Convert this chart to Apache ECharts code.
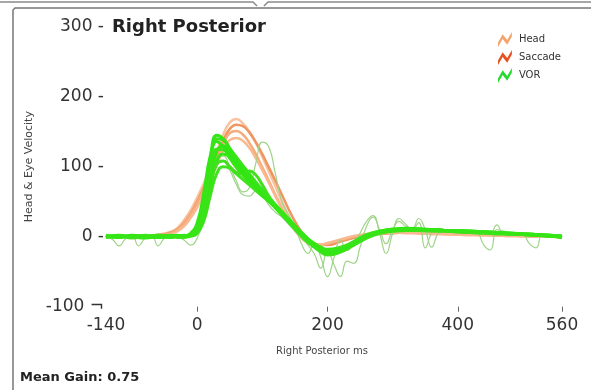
<!DOCTYPE html>
<html>
<head>
<meta charset="utf-8">
<script src="https://cdn.jsdelivr.net/npm/echarts@6/dist/echarts.min.js"></script>
<style>
  html, body { margin: 0; padding: 0; background: #fff; }
  #main { width: 591px; height: 390px; }
</style>
</head>
<body>
<div id="main"></div>
<script>
// time base (ms) for the head / main eye traces
const t = [-140, -120, -100, -80, -60, -40,
  -30, -20, -10, 0, 10, 20, 30, 40, 50, 60, 70, 80, 90, 100, 110, 120, 130, 140, 150, 160, 170, 180, 190, 200,
  220, 240, 260, 280, 300, 320, 340, 360, 380, 400, 420, 440, 460, 480, 500, 520, 540, 560];

// head velocity traces (deg/s)
const headA = [0, 1, 0, 1, 3, 7, 13, 24, 38, 56, 76, 98, 122, 146, 163, 168, 162, 150, 134, 114, 93, 72, 50, 30, 13, 1, -7, -11, -12, -11, -6, -1, 3, 5, 6, 6, 5, 5, 4, 4, 3, 3, 2, 2, 1, 1, 0, 0];
const headB = [1, 0, 1, 2, 2, 5, 10, 19, 32, 48, 67, 88, 110, 132, 148, 151, 146, 134, 118, 99, 80, 60, 41, 24, 9, -2, -9, -12, -12, -10, -5, 0, 3, 5, 5, 6, 5, 4, 4, 3, 3, 2, 2, 1, 1, 0, 0, -1];
const headC = [-1, 0, 1, 0, 2, 4, 8, 15, 27, 42, 60, 80, 102, 124, 138, 141, 137, 127, 112, 95, 77, 58, 40, 24, 10, -1, -8, -11, -11, -9, -4, 1, 4, 5, 6, 5, 5, 4, 4, 3, 2, 2, 2, 1, 1, 0, 0, 0];
const headD = [0, 0, 1, 1, 2, 6, 11, 20, 33, 50, 70, 92, 115, 137, 154, 160, 158, 149, 135, 118, 99, 80, 60, 40, 22, 7, -4, -10, -12, -12, -7, -2, 2, 4, 5, 6, 6, 5, 4, 4, 3, 3, 2, 2, 1, 1, 0, 0];

// eye (VOR) traces
const vor1 = [0, 2, -1, 2, 0, 1, 0, 1, 3, 12, 45, 100, 140, 138, 126, 114, 102, 90, 78, 67, 56, 45, 34, 23, 12, 2, -7, -14, -19, -21, -17, -8, 2, 8, 10, 11, 10, 10, 9, 8, 7, 6, 5, 5, 4, 3, 2, 0];
const vor2 = [1, -1, 2, 0, 2, -1, 1, 0, 2, 9, 35, 82, 122, 130, 120, 108, 97, 86, 76, 66, 56, 46, 36, 26, 16, 6, -3, -10, -16, -19, -18, -11, -1, 6, 9, 10, 11, 9, 9, 7, 7, 6, 4, 4, 3, 2, 1, -1];
const vor3 = [-1, 1, 0, -2, 1, 2, 0, -1, 1, 6, 28, 70, 108, 118, 114, 104, 94, 84, 74, 64, 54, 44, 34, 24, 14, 5, -4, -12, -18, -22, -20, -12, -2, 5, 8, 9, 9, 8, 8, 7, 6, 5, 5, 4, 3, 2, 1, 0];
const vor4 = [2, 0, 1, 1, -1, 0, 2, 1, 5, 20, 62, 115, 136, 128, 116, 104, 92, 81, 71, 61, 51, 41, 31, 21, 11, 1, -8, -15, -20, -23, -19, -9, 1, 7, 11, 12, 11, 10, 9, 9, 8, 7, 6, 5, 4, 3, 2, 1];
const vor5 = [0, 1, -2, 1, 1, -1, 1, 0, 2, 8, 30, 72, 104, 108, 100, 92, 90, 94, 88, 74, 58, 44, 32, 22, 12, 3, -5, -12, -17, -20, -16, -7, 3, 8, 10, 10, 10, 9, 8, 8, 7, 6, 5, 4, 4, 3, 1, 0];
const vor6 = [1, -1, 1, 0, 2, 0, -1, 1, 2, 10, 40, 92, 125, 124, 112, 99, 88, 78, 69, 60, 51, 42, 33, 24, 14, 4, -6, -15, -22, -26, -22, -12, -1, 6, 9, 10, 10, 10, 9, 8, 7, 7, 6, 5, 4, 3, 2, 0];
const vor7 = [0, 0, 1, -1, 0, 1, 0, 2, 1, 5, 22, 58, 90, 100, 98, 90, 82, 74, 66, 58, 50, 42, 33, 24, 15, 6, -3, -10, -15, -18, -15, -8, 1, 6, 8, 9, 9, 9, 8, 7, 6, 6, 5, 4, 3, 2, 1, -1];
const vor8 = [-1, 1, 1, 0, -1, 1, 1, 1, 4, 16, 55, 112, 145, 140, 126, 112, 99, 87, 75, 64, 54, 44, 34, 24, 14, 4, -5, -13, -19, -22, -18, -9, 1, 7, 10, 11, 11, 10, 9, 8, 8, 7, 6, 5, 4, 3, 2, 1];

// finer time base for the two noisy single traces
const tFine = [-140, -130, -120, -110, -100, -90, -80, -70, -60, -50, -40, -30, -20, -10, 0, 10, 20, 30, 40, 50,
  60, 70, 80, 90, 100, 110, 120, 130, 140, 150, 160, 170, 180, 190, 200, 210, 220, 230, 240, 250,
  260, 270, 280, 290, 300, 310, 320, 330, 340, 350, 360, 370, 380, 390, 400, 410, 420, 430, 440, 450,
  460, 470, 480, 490, 500, 510, 520, 530, 540, 550, 560];
const noisy1 = [0, -4, -13, -3, 2, -13, -2, 2, -13, -2, 1, 0, 1, 3, 10, 38, 85, 112, 115, 100,
  80, 64, 70, 105, 135, 128, 90, 50, 32, 15, -10, -24, -8, -30, -57, -30, -5, -20, -10, 5,
  22, 30, 5, -24, 5, 26, 18, 10, 20, -16, 5, 12, 10, 9, 8, 9, 8, 6, -12, -19,
  10, 8, 6, 6, 4, -10, -16, 3, 3, 2, 0];
const noisy2 = [1, 0, -2, 1, 0, -1, 1, 0, -1, 1, 0, -1, -5, -12, -2, 25, 70, 100, 108, 95,
  75, 60, 58, 65, 60, 45, 35, 28, 18, 8, -2, -12, -25, -45, -20, -40, -57, -35, -38, -15,
  15, 28, 10, -10, 10, 22, 15, 12, 26, 10, -15, 5, 10, 9, 8, 7, 7, 6, 6, 5,
  17, 5, 5, 4, 4, 3, 3, 2, 2, 1, 0];

const xLabels = [-140, 0, 200, 400, 560];
const xTicks = [0, 200, 400, 560];

const headTraces = [headA, headD, headB, headC];
const headColors = ['#f9c3a0', '#ef9660', '#f5ab7a', '#f8b991'];
const vorTraces = [vor7, vor3, vor5, vor2, vor6, vor4, vor1, vor8];
const vorColors = ['#3fe21c', '#36e514', '#45df22', '#30e80f', '#3ce318', '#2fe612', '#40e11d', '#35e616'];

const font = 'DejaVu Sans';
const wave = 'path://M0,9 L4,2 L8,7 L12,0 L12,4 L8,11 L4,6 L0,13 Z';
const pairs = (xs, ys) => xs.map((x, i) => [x, ys[i]]);

const series = [];
headTraces.forEach((d, i) => series.push({
  name: 'Head', type: 'line', data: pairs(t, d), smooth: true, showSymbol: false,
  color: headColors[i], lineStyle: { width: 2.5, color: headColors[i] }, z: 2
}));
series.push({ name: 'Saccade', type: 'line', data: [], color: '#e8501f', showSymbol: false });
[noisy1, noisy2].forEach(d => series.push({
  name: 'VOR', type: 'line', data: pairs(tFine, d), smooth: true, showSymbol: false,
  lineStyle: { width: 1.2, color: '#9fd488' }, z: 3
}));
vorTraces.forEach((d, i) => series.push({
  name: 'VOR', type: 'line', data: pairs(t, d), smooth: true, showSymbol: false,
  color: vorColors[i], lineStyle: { width: 3, color: vorColors[i] }, z: 4
}));

const chart = echarts.init(document.getElementById('main'));
chart.setOption({
  animation: false,
  grid: { left: 106, right: 29, top: 26.7, bottom: 83.3 },
  legend: {
    orient: 'vertical', left: 493, top: 27, itemGap: 3,
    itemWidth: 18, itemHeight: 15,
    textStyle: { fontFamily: font, fontSize: 10, color: '#333' },
    data: [
      { name: 'Head', icon: wave, itemStyle: { color: '#f4a46e' } },
      { name: 'Saccade', icon: wave, itemStyle: { color: '#e8501f' } },
      { name: 'VOR', icon: wave, itemStyle: { color: '#28d930' } }
    ]
  },
  xAxis: {
    type: 'value', min: -140, max: 560,
    name: 'Right Posterior ms', nameLocation: 'middle', nameGap: 40,
    nameTextStyle: { fontFamily: font, fontSize: 10, color: '#444', padding: [0, 24, 0, 0] },
    axisLine: { show: false, onZero: false },
    axisTick: { show: true, customValues: xTicks, length: 5, lineStyle: { color: '#666' } },
    axisLabel: { customValues: xLabels, margin: 10, fontFamily: font, fontSize: 17, color: '#333' },
    splitLine: { show: false }
  },
  yAxis: {
    type: 'value', min: -100, max: 300, interval: 100,
    name: 'Head & Eye Velocity', nameLocation: 'middle', nameRotate: 90, nameGap: 66,
    nameTextStyle: { fontFamily: font, fontSize: 11, color: '#444' },
    axisLine: { show: false }, axisTick: { show: false },
    axisLabel: {
      margin: 2, fontFamily: font, fontSize: 17, color: '#333',
      formatter: v => (v === -100 ? '-100 \u00ac' : v + ' -')
    },
    splitLine: { show: false }
  },
  graphic: [
    { type: 'polyline', silent: true, shape: { points: [[0, 2], [253, 2], [257, 6]] }, style: { stroke: '#8a8a8a', lineWidth: 1.5 } },
    { type: 'polyline', silent: true, shape: { points: [[264, 6], [268, 2], [591, 2]] }, style: { stroke: '#8a8a8a', lineWidth: 1.5 } },
    { type: 'polyline', silent: true, shape: { points: [[13, 390], [13, 10], [15, 8], [591, 8]] }, style: { stroke: '#777', lineWidth: 1.5 } },
    { type: 'text', silent: true, style: { text: 'Right Posterior', x: 112, y: 27, verticalAlign: 'middle', fontFamily: font, fontSize: 18, fontWeight: 'bold', fill: '#222' } },
    { type: 'text', silent: true, style: { text: 'Mean Gain: 0.75', x: 20, y: 378, verticalAlign: 'middle', fontFamily: font, fontSize: 13, fontWeight: 'bold', fill: '#222' } }
  ],
  series: series
});
</script>
</body>
</html>
